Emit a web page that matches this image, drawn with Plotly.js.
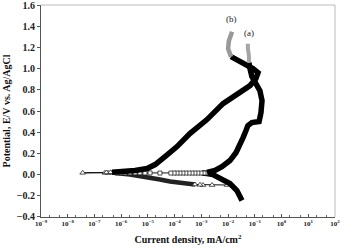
<!DOCTYPE html>
<html><head><meta charset="utf-8">
<script src="https://cdn.plot.ly/plotly-3.0.1.min.js"></script>
<style>html,body{margin:0;padding:0;background:#fff}#c{width:340px;height:252px}</style>
</head><body><div id="c"></div>
<script>
// log10(current density, mA/cm2) and potential (V vs Ag/AgCl)
// curve (b): triangles
const bLowI  = [-2.04, -2.60, -2.94, -3.05, -3.24];
const bLowE  = [-0.099, -0.099, -0.099, -0.097, -0.094];
const bCathI = [-3.24, -3.43, -3.69, -4.17, -4.55, -4.92, -5.30, -5.67, -6.04, -6.23];
const bCathE = [-0.094, -0.090, -0.085, -0.066, -0.047, -0.028, -0.014, 0.000, 0.009, 0.014];
const bSpikeI = [-6.23, -6.34, -6.49, -6.61, -7.44, -6.55, -6.40];
const bSpikeE = [0.014, 0.016, 0.016, 0.016, 0.016, 0.019, 0.021];
const bAnodI = [-6.34, -5.86, -5.48, -5.03, -4.73, -4.36, -3.91, -3.43, -2.79, -2.19, -1.56, -1.18, -0.96, -0.88, -1.07, -1.37, -1.67, -1.89];
const bAnodE = [0.021, 0.028, 0.038, 0.057, 0.094, 0.170, 0.264, 0.387, 0.519, 0.670, 0.774, 0.840, 0.906, 0.962, 1.000, 1.038, 1.075, 1.113];
const bTopI = [-1.89, -2.00, -1.97, -1.85];
const bTopE = [1.113, 1.189, 1.264, 1.349];
// curve (a): squares
const aCathI = [-1.48, -1.56, -1.67, -1.93, -2.23, -2.57, -2.79, -2.98];
const aCathE = [-0.245, -0.198, -0.151, -0.085, -0.038, 0.000, 0.009, 0.014];
const aMidI = [-2.79, -2.90, -3.01, -3.13, -3.24, -3.35, -3.46, -3.58, -3.69, -3.80, -3.91, -4.02, -4.14, -4.55, -4.92, -5.11, -5.30, -5.48, -5.67, -5.86, -6.01, -6.16];
const aMidE = [0.014, 0.014, 0.014, 0.014, 0.014, 0.014, 0.014, 0.014, 0.014, 0.014, 0.014, 0.014, 0.014, 0.014, 0.015, 0.015, 0.016, 0.016, 0.016, 0.016, 0.016, 0.016];
const aAnodI = [-2.79, -2.49, -2.23, -1.93, -1.70, -1.56, -1.44, -1.33, -1.26, -1.11, -0.84, -0.77, -0.73, -0.81, -0.96, -1.11, -1.18, -1.22];
const aAnodE = [0.019, 0.038, 0.075, 0.132, 0.208, 0.274, 0.349, 0.415, 0.462, 0.491, 0.500, 0.585, 0.698, 0.792, 0.868, 0.925, 1.000, 1.057];
const aTopI = [-1.22, -1.22, -1.26, -1.26];
const aTopE = [1.057, 1.123, 1.189, 1.236];

const xTickVals = [-9, -8, -7, -6, -5, -4, -3, -2, -1, 0, 1, 2];
const xTickText = ['10<sup>−9</sup>', '10<sup>−8</sup>', '10<sup>−7</sup>', '10<sup>−6</sup>', '10<sup>−5</sup>', '10<sup>−4</sup>',
  '10<sup>−3</sup>', '10<sup>−2</sup>', '10<sup>−1</sup>', '10<sup>0</sup>', '10<sup>1</sup>', '10<sup>2</sup>'];
const yTickVals = [-0.4, -0.2, 0.0, 0.2, 0.4, 0.6, 0.8, 1.0, 1.2, 1.4, 1.6];
const labels = [{t: '(b)', i: -1.89, e: 1.47}, {t: '(a)', i: -1.22, e: 1.34}];

const pw = v => v.map(l => Math.pow(10, l));
const dense = (I, E, col, w) => ({x: pw(I), y: E, type: 'scatter', mode: 'lines',
  line: {color: col, width: w}, hoverinfo: 'skip'});
const sparse = (I, E, sym, sz) => ({x: pw(I), y: E, type: 'scatter', mode: 'lines+markers',
  line: {color: '#111', width: 1}, marker: {symbol: sym, size: sz, color: '#fff', line: {color: '#222', width: 0.8}}, hoverinfo: 'skip'});

const data = [
  dense(bCathI, bCathE, '#222', 4.5),
  sparse(bLowI, bLowE, 'triangle-up', 5),
  sparse(bSpikeI, bSpikeE, 'triangle-up', 5),
  dense(aCathI, aCathE, '#000', 5.5),
  sparse(aMidI, aMidE, 'square', 4),
  dense(bAnodI, bAnodE, '#000', 5.5),
  dense(bTopI, bTopE, '#999', 4.5),
  dense(aAnodI, aAnodE, '#000', 5.5),
  dense(aTopI, aTopE, '#a5a5a5', 4),
];

const serif = 'Liberation Serif, Times New Roman, serif';
const layout = {
  width: 340, height: 252,
  margin: {l: 41, r: 5, t: 5, b: 35},
  paper_bgcolor: '#fff', plot_bgcolor: '#fff',
  showlegend: false,
  xaxis: {
    type: 'log', range: [-9, 2], tickvals: pw(xTickVals), ticktext: xTickText,
    tickfont: {family: serif, size: 7, color: '#222', weight: 'bold'},
    ticks: 'inside', ticklen: 3, tickcolor: '#555', showgrid: false, zeroline: false,
    showline: true, linecolor: '#555', linewidth: 1, ticklabeloverflow: 'allow',
    minor: {ticks: 'inside', ticklen: 2, tickcolor: '#666', showgrid: false},
    title: {text: 'Current density, mA/cm<sup>2</sup>', font: {family: serif, size: 10, color: '#111', weight: 'bold'}, standoff: 8}
  },
  yaxis: {
    range: [-0.401, 1.601], tickvals: yTickVals, tickformat: '.1f',
    tickfont: {family: serif, size: 10, color: '#222', weight: 'bold'},
    ticks: 'outside', ticklen: 3, tickcolor: '#555', showgrid: false, zeroline: false,
    showline: true, linecolor: '#555', linewidth: 1, ticklabeloverflow: 'allow',
    title: {text: 'Potential, E/V vs. Ag/AgCl', font: {family: serif, size: 10, color: '#111', weight: 'bold'}, standoff: 4}
  },
  shapes: [
    {type: 'line', xref: 'paper', yref: 'paper', x0: 0, x1: 1, y0: 1, y1: 1, line: {color: '#bbb', width: 1}},
    {type: 'line', xref: 'paper', yref: 'paper', x0: 1, x1: 1, y0: 0, y1: 1, line: {color: '#bbb', width: 1}}
  ],
  annotations: labels.map(a => ({x: a.i, y: a.e, xref: 'x', yref: 'y', text: a.t, showarrow: false,
    font: {family: serif, size: 9, color: '#222'}}))
};
Plotly.newPlot('c', data, layout, {staticPlot: true, displayModeBar: false});
</script></body></html>
